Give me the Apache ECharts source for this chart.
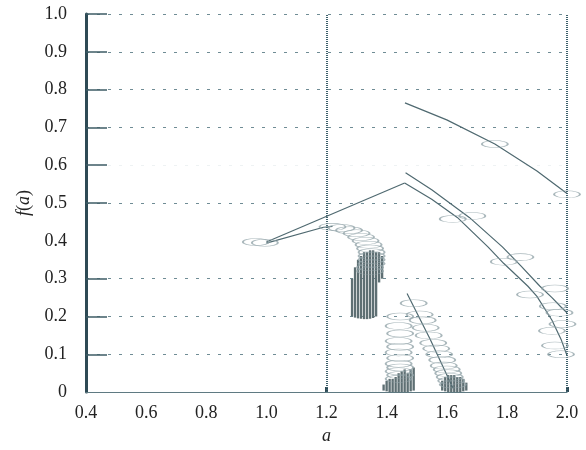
<!DOCTYPE html>
<html>
<head>
<meta charset="utf-8">
<script src="https://cdn.jsdelivr.net/npm/echarts@6/dist/echarts.min.js"></script>
<style>
  html, body { margin: 0; padding: 0; background: #fff; }
  #chart { width: 586px; height: 450px; }
</style>
</head>
<body>
<div id="chart"></div>
<script>
// Axis ticks
const xTicks = [0.4, 0.6, 0.8, 1.0, 1.2, 1.4, 1.6, 1.8, 2.0];
const yTicks = [0, 0.1, 0.2, 0.3, 0.4, 0.5, 0.6, 0.7, 0.8, 0.9, 1.0];

// Straight rise from the a≈1.0 loop to the fold
const branchRise = [[1.0, 0.397], [1.46, 0.553]];
// Lower of the two falling branches, starting at the fold
const branchLowerPair = [[1.46, 0.553], [1.55, 0.51], [1.635, 0.462], [1.737, 0.384],
  [1.79, 0.34], [1.87, 0.28], [1.90, 0.253], [1.95, 0.19], [1.98, 0.14], [2.0, 0.097]];
// Upper of the two falling branches
const branchUpperPair = [[1.463, 0.58], [1.55, 0.535], [1.675, 0.462], [1.785, 0.384],
  [1.845, 0.335], [1.91, 0.28], [1.95, 0.25], [1.98, 0.225], [2.0, 0.21]];
// Top branch
const branchTop = [[1.461, 0.765], [1.6, 0.72], [1.76, 0.656], [1.9, 0.585], [2.0, 0.525]];
// Link from the loop to the hooked arc
const arcLink = [[1.0, 0.394], [1.19, 0.436], [1.22, 0.438]];
// Steep branch dropping towards a≈1.62
const dropBranch = [[1.468, 0.261], [1.544, 0.141], [1.621, 0.01]];

// Loops (centre a, f(a))
const loops = [
  [0.965, 0.397], [0.995, 0.395],
  [1.22, 0.437], [1.25, 0.434], [1.275, 0.428], [1.30, 0.42], [1.315, 0.41], [1.33, 0.40],
  [1.34, 0.39], [1.345, 0.38], [1.35, 0.37], [1.35, 0.36], [1.35, 0.35], [1.35, 0.34],
  [1.345, 0.33], [1.345, 0.32],
  [1.445, 0.20], [1.44, 0.175], [1.445, 0.155], [1.44, 0.135], [1.445, 0.12], [1.44, 0.105],
  [1.445, 0.09], [1.44, 0.075], [1.445, 0.065], [1.44, 0.055], [1.445, 0.045], [1.44, 0.035],
  [1.49, 0.235], [1.51, 0.205], [1.52, 0.19], [1.53, 0.17], [1.54, 0.15], [1.555, 0.13],
  [1.565, 0.115], [1.575, 0.10], [1.585, 0.085], [1.59, 0.07], [1.60, 0.06], [1.605, 0.05],
  [1.61, 0.04], [1.615, 0.03], [1.62, 0.02],
  [1.62, 0.458], [1.685, 0.466], [1.79, 0.345], [1.845, 0.357],
  [1.877, 0.258], [1.96, 0.274], [1.953, 0.227], [1.975, 0.21], [1.95, 0.162],
  [1.96, 0.123], [1.98, 0.10], [1.985, 0.18],
  [1.76, 0.656], [2.0, 0.523]
];

// Stripes [a, lower f, upper f]
const stripes = [
  [1.285, 0.20, 0.30], [1.295, 0.197, 0.33], [1.305, 0.195, 0.35], [1.315, 0.194, 0.36],
  [1.325, 0.193, 0.37], [1.335, 0.193, 0.37], [1.345, 0.194, 0.375], [1.355, 0.196, 0.375],
  [1.365, 0.20, 0.37], [1.375, 0.29, 0.37], [1.385, 0.30, 0.36],
  [1.39, 0.004, 0.02], [1.40, 0.002, 0.03], [1.41, 0.0, 0.035], [1.42, 0.0, 0.035],
  [1.43, 0.0, 0.04], [1.44, 0.0, 0.05], [1.45, 0.0, 0.055], [1.46, 0.0, 0.06],
  [1.47, 0.0, 0.05], [1.48, 0.002, 0.06], [1.49, 0.004, 0.065],
  [1.585, 0.004, 0.03], [1.595, 0.002, 0.04], [1.605, 0.0, 0.045], [1.615, 0.0, 0.045],
  [1.625, 0.0, 0.045], [1.635, 0.0, 0.04], [1.645, 0.0, 0.04], [1.655, 0.002, 0.035],
  [1.665, 0.004, 0.025]
];

const lineColor = '#4f6970';
const loopColor = '#94a5aa';
const serif = "'Liberation Serif', 'Times New Roman', Times, serif";

const chart = echarts.init(document.getElementById('chart'));

function branch(data) {
  return {
    type: 'line', data: data, showSymbol: false, smooth: false,
    lineStyle: { color: lineColor, width: 1.2 }, z: 4, silent: true
  };
}

chart.setOption({
  animation: false,
  backgroundColor: '#fff',
  grid: { left: 86, right: 19, top: 14, bottom: 53 },
  xAxis: {
    type: 'value', min: 0.4, max: 2.0, interval: 0.2,
    name: 'a', nameLocation: 'middle', nameGap: 28,
    nameTextStyle: { fontFamily: serif, fontStyle: 'italic', fontSize: 18, color: '#222' },
    axisLine: { show: true, onZero: false, lineStyle: { color: '#5f7a82', width: 1.2 } },
    axisTick: { show: true, inside: true, length: 5, customValues: [1.2, 2.0],
      lineStyle: { color: '#2e4a55', width: 3 } },
    splitLine: { show: false },
    axisLabel: { fontFamily: serif, fontSize: 18, color: '#222', margin: 12,
      formatter: v => v.toFixed(1) }
  },
  yAxis: {
    type: 'value', min: 0, max: 1, interval: 0.1,
    name: '{i|f}({i|a})', nameLocation: 'middle', nameGap: 40, nameRotate: 90,
    nameTextStyle: { fontFamily: serif, fontSize: 18, color: '#222',
      rich: { i: { fontFamily: serif, fontStyle: 'italic', fontSize: 18, color: '#222' } } },
    axisLine: { show: true, lineStyle: { color: '#2e4a55', width: 3 } },
    axisTick: { show: true, inside: true, length: 21,
      customValues: [0.1, 0.2, 0.3, 0.5, 0.6, 0.7, 0.8, 0.9, 1.0],
      lineStyle: { color: '#3e5c66', width: 1.5 } },
    splitLine: { show: true, lineStyle: {
      color: ['#6f8c95', '#6f8c95', '#6f8c95', '#6f8c95', '#eef2f3', '#6f8c95',
              '#6f8c95', '#6f8c95', '#6f8c95', '#6f8c95', '#6f8c95'],
      type: [3, 8], width: 1 } },
    axisLabel: { fontFamily: serif, fontSize: 18, color: '#222', margin: 19,
      formatter: v => (v === 0 ? '0' : v.toFixed(1)) }
  },
  series: [
    branch(branchRise),
    branch(branchLowerPair),
    branch(branchUpperPair),
    branch(branchTop),
    branch(arcLink),
    branch(dropBranch),
    {
      type: 'custom', data: stripes, z: 3, silent: true,
      renderItem: function (params, api) {
        const a = api.value(0);
        const lo = api.coord([a, api.value(1)]);
        const hi = api.coord([a, api.value(2)]);
        const w = api.size([0.0078, 0])[0];
        return {
          type: 'rect',
          shape: { x: lo[0] - w / 2, y: hi[1], width: w, height: lo[1] - hi[1] },
          style: { fill: '#5e6f73' }
        };
      }
    },
    {
      type: 'scatter', data: loops, symbol: 'circle', symbolSize: [26, 7], z: 5, silent: true,
      itemStyle: { color: 'rgba(255,255,255,0)', borderColor: loopColor, borderWidth: 1 }
    },
    {
      type: 'line', data: [], silent: true,
      markLine: {
        symbol: 'none', silent: true, label: { show: false },
        lineStyle: { color: '#3d5f6b', width: 2, type: [1, 1] },
        data: [{ xAxis: 1.2 }, { xAxis: 2.0 }]
      }
    }
  ]
});
</script>
</body>
</html>
